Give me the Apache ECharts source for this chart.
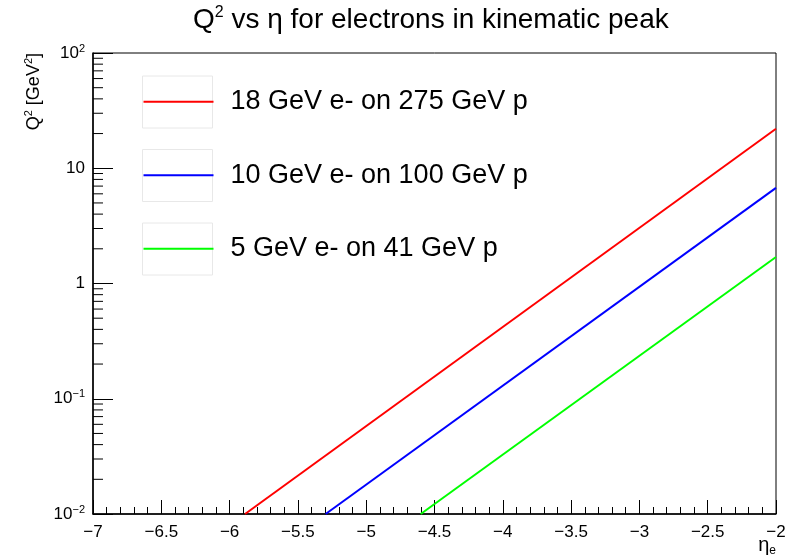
<!DOCTYPE html>
<html>
<head>
<meta charset="utf-8">
<script src="https://cdn.jsdelivr.net/npm/echarts@6/dist/echarts.min.js"></script>
<style>
  html, body { margin: 0; padding: 0; background: #fff; }
  #chart { width: 796px; height: 556px; }
</style>
</head>
<body>
<div id="chart"></div>
<script>
// values (eta, Q2 in GeV^2)
const seriesNames = ['18 GeV e- on 275 GeV p', '10 GeV e- on 100 GeV p', '5 GeV e- on 41 GeV p']
const seriesColors = ['#ff0000', '#0000ff', '#00ff00']
const red = [[-5.887, 0.01], [-2, 22.0]]
const blue = [[-5.297, 0.01], [-2, 6.76]]
const green = [[-4.601, 0.01], [-2, 1.70]]

const yTickExp = [-2, -1, 0, 1, 2]
const yTickLabels = ['{b|10}{s|−2}', '{b|10}{s|−1}', '{b|1}', '{b|10}', '{b|10}{s|2}']
const yMinorTicks = [
  0.02, 0.03, 0.04, 0.05, 0.06, 0.07, 0.08, 0.09,
  0.2, 0.3, 0.4, 0.5, 0.6, 0.7, 0.8, 0.9,
  2, 3, 4, 5, 6, 7, 8, 9,
  20, 30, 40, 50, 60, 70, 80, 90
]
const xMin = -7
const xMax = -2

const font = 'Liberation Sans, Arial, Helvetica, sans-serif'
const chart = echarts.init(document.getElementById('chart'))

// one legend per entry so each sits in its own box
const legendTops = [76, 149.5, 223]
const legends = legendTops.map((top, i) => ({
  orient: 'vertical',
  left: 142.5,
  top: top + 5,
  padding: 0,
  itemWidth: 70,
  itemHeight: 52,
  data: [seriesNames[i]],
  itemStyle: { opacity: 0 },
  textStyle: { fontSize: 27, color: '#000', fontFamily: font, padding: [0, 0, 0, 12] }
}))

// faint boxes behind the legend samples
const legendBoxes = legendTops.map(top => ({
  type: 'rect',
  shape: { x: 142.5, y: top, width: 70, height: 52 },
  style: { fill: 'none', stroke: '#e8e8e8', lineWidth: 1 },
  silent: true,
  z: 0
}))

const option = {
  backgroundColor: '#fff',
  animation: false,
  textStyle: { fontFamily: font },
  title: {
    text: '{n|Q}{s|2}{n| vs η for electrons in kinematic peak}',
    left: 193,
    top: 5,
    padding: 0,
    textStyle: {
      fontWeight: 'normal',
      rich: {
        n: { fontSize: 28, color: '#000', fontFamily: font, fontWeight: 'normal' },
        s: { fontSize: 16, color: '#000', fontFamily: font, fontWeight: 'normal', padding: [0, 0, 15, 0] }
      }
    }
  },
  legend: legends,
  grid: {
    left: 93,
    right: 20,
    top: 53,
    bottom: 42,
    show: true,
    borderColor: '#000',
    borderWidth: 1,
    containLabel: false
  },
  xAxis: {
    type: 'value',
    min: xMin,
    max: xMax,
    interval: 0.5,
    axisLine: { show: true, onZero: false, lineStyle: { color: '#000', width: 1.5 } },
    axisTick: { show: true, inside: true, length: 14, lineStyle: { color: '#000' } },
    minorTick: { show: true, splitNumber: 5, length: 7, lineStyle: { color: '#000' } },
    splitLine: { show: false },
    axisLabel: {
      fontSize: 17,
      color: '#000',
      margin: 10,
      fontFamily: font,
      formatter: v => String(v).replace('-', '−')
    }
  },
  yAxis: {
    type: 'log',
    logBase: 10,
    min: 0.01,
    max: 100,
    axisLine: { show: true, onZero: false, lineStyle: { color: '#000', width: 1.5 } },
    axisTick: { show: true, inside: true, length: 20, lineStyle: { color: '#000' } },
    splitLine: { show: false },
    axisLabel: {
      margin: 8,
      formatter: v => {
        const e = Math.round(Math.log10(v))
        const i = yTickExp.indexOf(e)
        return i >= 0 ? yTickLabels[i] : ''
      },
      rich: {
        b: { fontSize: 17, color: '#000', fontFamily: font },
        s: { fontSize: 11, color: '#000', fontFamily: font, padding: [0, 0, 9, 0] }
      }
    }
  },
  graphic: [
    ...legendBoxes,
    {
      type: 'text',
      x: 34,
      y: 53,
      rotation: Math.PI / 2,
      style: {
        text: '{n|Q}{s|2}{n| [GeV}{s|2}{n|]}',
        align: 'right',
        verticalAlign: 'middle',
        rich: {
          n: { fontSize: 18, fill: '#000', fontFamily: font },
          s: { fontSize: 11, fill: '#000', fontFamily: font, padding: [0, 0, 10, 0] }
        }
      }
    },
    {
      type: 'text',
      x: 776,
      y: 545,
      style: {
        text: '{n|η}{e|e}',
        align: 'right',
        verticalAlign: 'middle',
        rich: {
          n: { fontSize: 20, fill: '#000', fontFamily: font },
          e: { fontSize: 12, fill: '#000', fontFamily: font, padding: [12, 0, 0, 0] }
        }
      }
    }
  ],
  series: [
    {
      name: seriesNames[0],
      type: 'line',
      data: red,
      symbol: 'none',
      lineStyle: { color: seriesColors[0], width: 2 },
      itemStyle: { color: seriesColors[0] }
    },
    {
      name: seriesNames[1],
      type: 'line',
      data: blue,
      symbol: 'none',
      lineStyle: { color: seriesColors[1], width: 2 },
      itemStyle: { color: seriesColors[1] }
    },
    {
      name: seriesNames[2],
      type: 'line',
      data: green,
      symbol: 'none',
      lineStyle: { color: seriesColors[2], width: 2 },
      itemStyle: { color: seriesColors[2] }
    },
    {
      // minor ticks of the log axis at 2..9 x 10^n
      name: 'yMinor',
      type: 'custom',
      silent: true,
      data: yMinorTicks.map(v => [xMin, v]),
      encode: { x: 0, y: 1 },
      renderItem: (params, api) => {
        const p = api.coord([api.value(0), api.value(1)])
        return {
          type: 'line',
          shape: { x1: p[0], y1: p[1], x2: p[0] + 10, y2: p[1] },
          style: { stroke: '#000', lineWidth: 1 }
        }
      }
    }
  ]
}

chart.setOption(option)
</script>
</body>
</html>
